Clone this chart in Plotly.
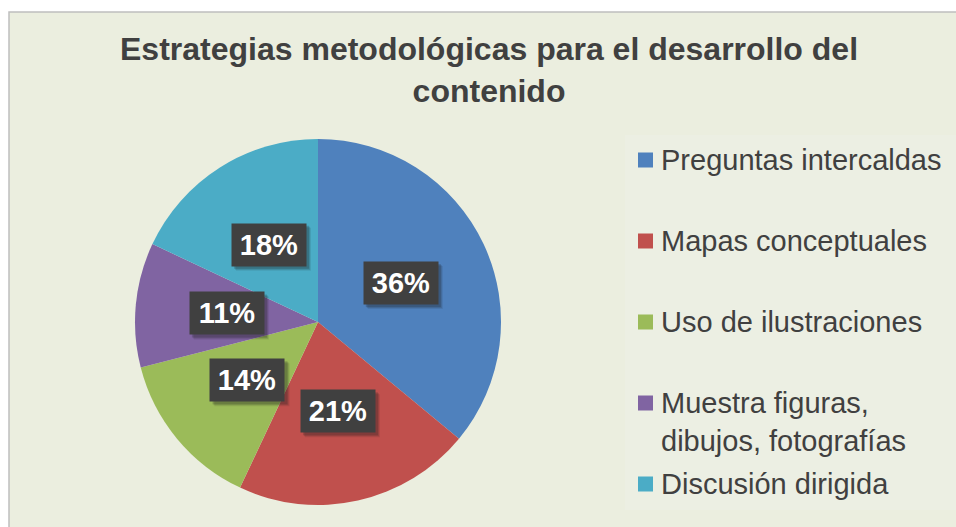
import math
import plotly.graph_objects as go

labels = ["Preguntas intercaldas", "Mapas conceptuales", "Uso de ilustraciones",
          "Muestra figuras,<br>dibujos, fotografías", "Discusión dirigida"]
values = [36, 21, 14, 11, 18]
colors = ["#4F81BD", "#C0504D", "#9BBB59", "#8064A2", "#4BACC6"]
title_text = "<b>Estrategias metodológicas para el desarrollo del<br>contenido</b>"

W, H = 956, 527
FONT = "Liberation Sans, Arial, sans-serif"
TXT = "#404040"


def px(x):
    return x / W


def py(y):
    return 1 - y / H


cx, cy, R = 318, 322, 183
BW, BH = 74, 42

fig = go.Figure()
fig.add_trace(go.Pie(
    labels=labels, values=values, sort=False, direction="clockwise", rotation=0,
    marker=dict(colors=colors, line=dict(width=0)),
    textinfo="none", hoverinfo="label+percent", showlegend=False,
    domain=dict(x=[px(cx - R), px(cx + R)], y=[py(cy + R), py(cy - R)]),
))

shapes = [
    # chart area
    dict(type="rect", xref="paper", yref="paper", x0=px(9), x1=px(975), y0=py(540), y1=py(12),
         fillcolor="#EBEEDF", line=dict(color="#BFBFBF", width=1.5), layer="below"),
    # legend area
    dict(type="rect", xref="paper", yref="paper", x0=px(625), x1=px(960), y0=py(510), y1=py(135),
         fillcolor="#ECEFE3", line=dict(width=0), layer="below"),
]
annotations = []

# title
annotations.append(dict(x=px(489), y=py(70), xref="paper", yref="paper",
                        xanchor="center", yanchor="middle", align="center",
                        text=title_text, showarrow=False,
                        font=dict(family=FONT, size=32, color=TXT)))

# data labels
total = sum(values)
cum = 0
for v in values:
    mid = (cum + v / 2) / total * 2 * math.pi
    cum += v
    lx = cx + 0.5 * R * math.sin(mid)
    ly = cy - 0.5 * R * math.cos(mid)
    txt = f"<b>{round(v / total * 100)}%</b>"
    # soft shadow behind the label box
    for d, a in ((5, 0.10), (4, 0.15), (3, 0.2)):
        shapes.append(dict(type="rect", xref="paper", yref="paper", layer="above",
                           x0=px(lx - BW / 2 + d - 1), x1=px(lx + BW / 2 + d),
                           y0=py(ly + BH / 2 + d), y1=py(ly - BH / 2 + d - 1),
                           fillcolor=f"rgba(30,30,30,{a})", line=dict(width=0)))
    annotations.append(dict(x=px(lx), y=py(ly), xref="paper", yref="paper",
                            xanchor="center", yanchor="middle",
                            text=txt, showarrow=False, width=BW, height=BH,
                            font=dict(family=FONT, size=29, color="white"),
                            bgcolor="#404040", borderpad=0))

# legend (manual, to match item spacing)
leg_y = [160, 241, 322, 403, 484]
for lab, col, y in zip(labels, colors, leg_y):
    shapes.append(dict(type="rect", xref="paper", yref="paper", x0=px(638), x1=px(653),
                       y0=py(y + 7.5), y1=py(y - 7.5), fillcolor=col, line=dict(width=0)))
    annotations.append(dict(x=px(659), y=py(y - 18), xref="paper", yref="paper",
                            xanchor="left", yanchor="top", align="left",
                            text=lab, showarrow=False,
                            font=dict(family=FONT, size=29, color=TXT)))

fig.update_layout(
    width=W, height=H,
    margin=dict(l=0, r=0, t=0, b=0),
    paper_bgcolor="white", plot_bgcolor="white",
    shapes=shapes, annotations=annotations,
)

fig.write_html("out.html", config={"displayModeBar": False},
               post_script="document.body.style.margin='0px';")
